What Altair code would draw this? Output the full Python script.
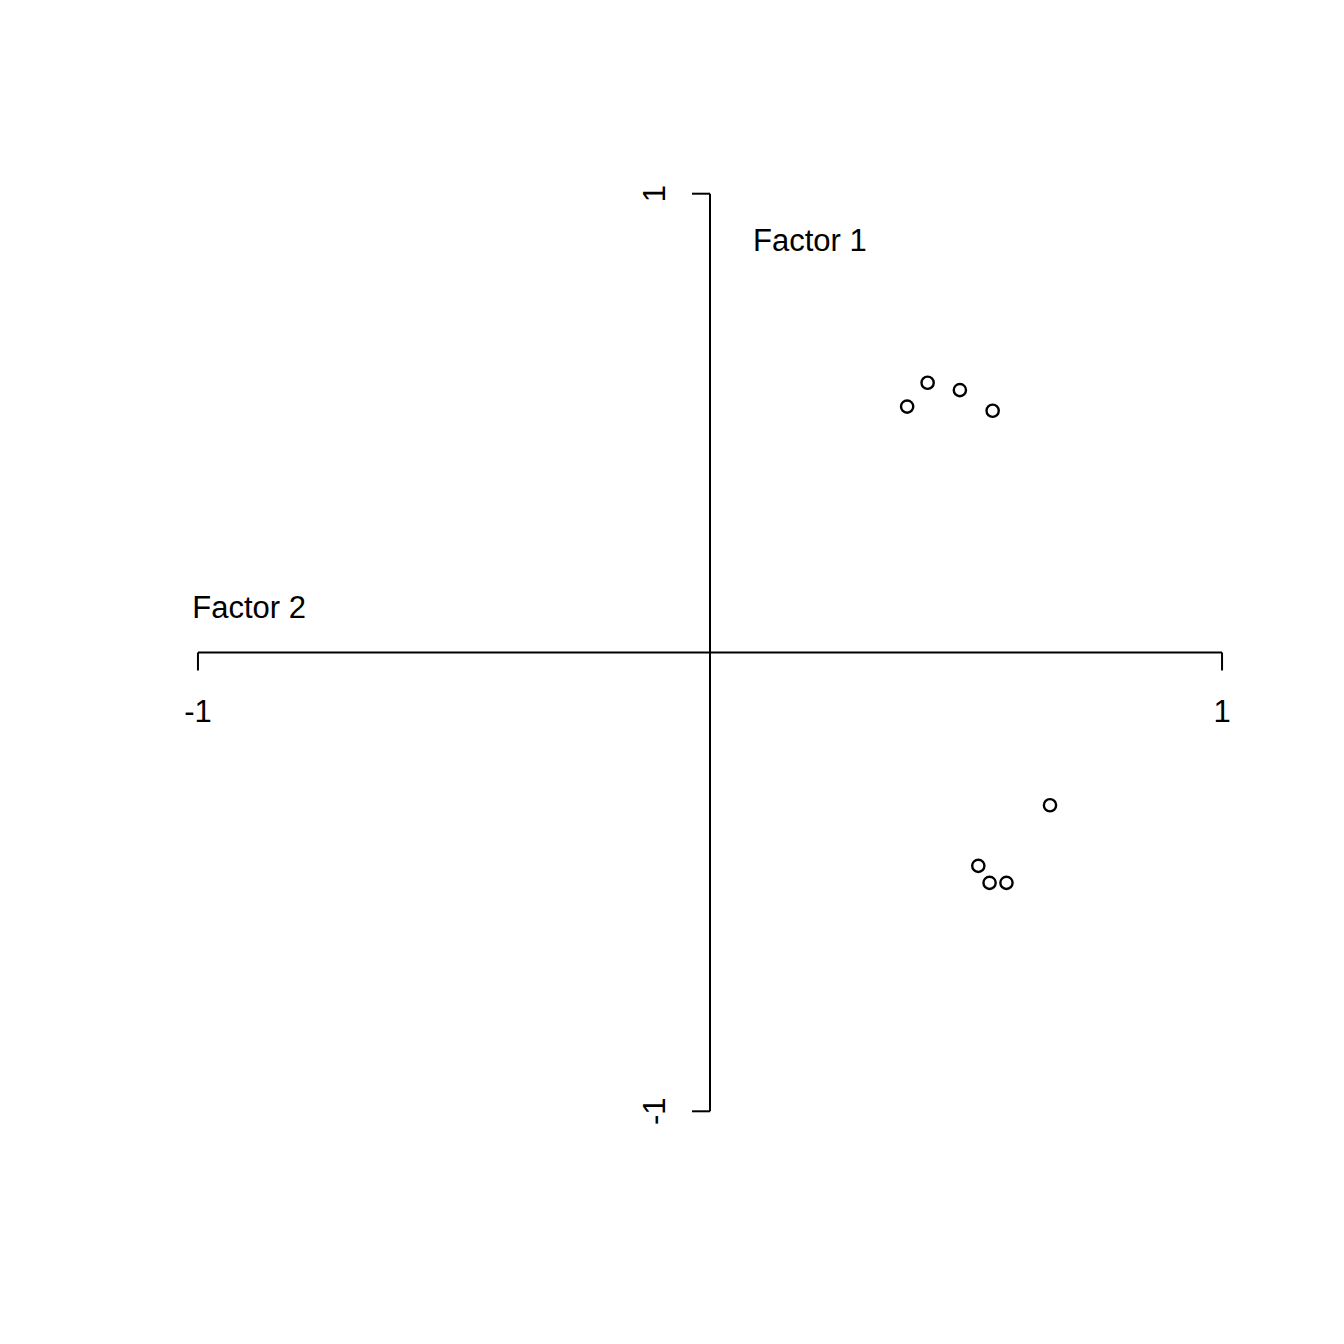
import altair as alt
import pandas as pd

# Loadings
factor2_x = [0.385, 0.425, 0.488, 0.552, 0.664, 0.524, 0.546, 0.579]
factor1_y = [0.536, 0.588, 0.572, 0.527, -0.333, -0.465, -0.502, -0.502]

tick_values = [-1, 1]
tick_labels = ["-1", "1"]

axis_titles = ["Factor 1", "Factor 2"]
title_x = [0.195, -0.9]
title_y = [0.9, 0.1]

FONT = "Liberation Sans"
FS = 31

points = pd.DataFrame({"x": factor2_x, "y": factor1_y})
xticks = pd.DataFrame({"v": tick_values, "lab": tick_labels, "zero": [0, 0]})
yticks = pd.DataFrame({"v": tick_values, "lab": tick_labels, "zero": [0, 0]})
hline = pd.DataFrame({"x": [tick_values[0]], "x2": [tick_values[1]], "y": [0]})
vline = pd.DataFrame({"y": [tick_values[0]], "y2": [tick_values[1]], "x": [0]})
titles = pd.DataFrame({"t": axis_titles, "x": title_x, "y": title_y})

xs = alt.Scale(domain=[-1.08, 1.08], nice=False, zero=False)
ys = alt.Scale(domain=[-1.08, 1.08], nice=False, zero=False)

def X(f):
    return alt.X(f, type="quantitative", scale=xs, axis=None)

def Y(f):
    return alt.Y(f, type="quantitative", scale=ys, axis=None)

h = alt.Chart(hline).mark_rule(color="black", strokeWidth=2).encode(
    x=X("x"), x2="x2", y=Y("y"))
v = alt.Chart(vline).mark_rule(color="black", strokeWidth=2).encode(
    y=Y("y"), y2="y2", x=X("x"))

xt = alt.Chart(xticks).mark_tick(color="black", orient="vertical", size=18,
                                 thickness=2, opacity=1, yOffset=9).encode(
    x=X("v"), y=Y("zero"))
yt = alt.Chart(yticks).mark_tick(color="black", orient="horizontal", size=18,
                                 thickness=2, opacity=1, xOffset=-9).encode(
    y=Y("v"), x=X("zero"))

xl = alt.Chart(xticks).mark_text(font=FONT, fontSize=FS, color="black",
                                 align="center", baseline="alphabetic", dy=69).encode(
    x=X("v"), y=Y("zero"), text="lab:N")
yl = alt.Chart(yticks).mark_text(font=FONT, fontSize=FS, color="black",
                                 align="center", baseline="alphabetic", angle=270, dy=-45).encode(
    y=Y("v"), x=X("zero"), text="lab:N")

tt = alt.Chart(titles).mark_text(font=FONT, fontSize=FS, color="black",
                                 align="center", baseline="middle", dy=2).encode(
    x=X("x"), y=Y("y"), text="t:N")

pts = alt.Chart(points).mark_point(shape="circle", filled=False, color="black",
                                   size=150, strokeWidth=2.4, opacity=1).encode(
    x=X("x"), y=Y("y"))

chart = alt.layer(h, v, xt, yt, xl, yl, tt, pts).properties(
    width=1106, height=991,
    autosize=alt.AutoSizeParams(type="none"),
    padding={"left": 149, "top": 149, "right": 73, "bottom": 180},
).configure(background="white").configure_view(strokeWidth=0, stroke=None)

chart.save("out.html", embed_options={"renderer": "svg", "actions": False})
